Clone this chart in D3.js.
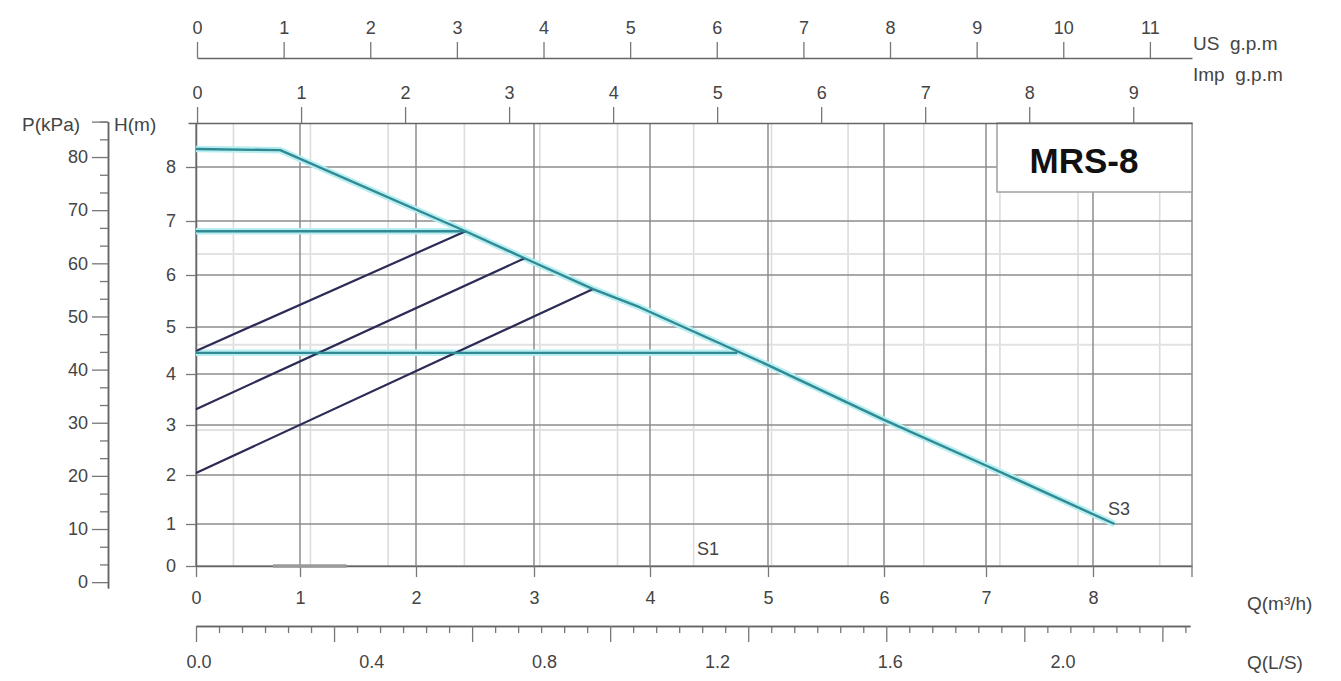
<!DOCTYPE html>
<html>
<head>
<meta charset="utf-8">
<script src="https://cdn.jsdelivr.net/npm/d3@7/dist/d3.min.js"></script>
<style>
body{margin:0;background:#fff;}
text{font-family:"Liberation Sans",Arial,sans-serif;fill:#444;}
</style>
</head>
<body>
<div id="viz"></div>
<script>
// axis ticks / labels
var qTicks = [0,1,2,3,4,5,6,7,8];
var hTicks = [0,1,2,3,4,5,6,7,8];
var pTicks = [0,10,20,30,40,50,60,70,80];
var usTicks = [0,1,2,3,4,5,6,7,8,9,10,11];
var impTicks = [0,1,2,3,4,5,6,7,8,9];
var lsLabels = [0.0,0.4,0.8,1.2,1.6,2.0];

// faint grid lines of the sheet
var qMinorGrid = [0.36,1.09,1.76,2.41,3.05,3.72,4.37,5.03,5.69,6.39,7.13,7.86,8.62];
var hMinorGrid = [6.39,4.62,2.9];

// curves (Q m3/h, H m)
var s3Curve = [[0,8.33],[0.81,8.31],[2.42,6.81],[2.92,6.31],[3.51,5.73],[3.91,5.38],[5.0,4.19],[6.0,3.10],[7.01,2.18],[8.20,1.0]];
var constHigh = [[0,6.81],[2.42,6.81]];
var constLow = [[0,4.45],[4.74,4.45]];
var propHigh = [[0,4.49],[2.42,6.81]];
var propMid = [[0,3.31],[2.92,6.31]];
var propLow = [[0,2.04],[3.51,5.73]];
var s1Line = [[0.74,0],[1.4,0]];

var width = 1341, height = 681;
var plotL = 196, plotR = 1192, plotT = 123, plotB = 566;

var svg = d3.select('#viz')
	.append('svg')
	.attr("width",width)
	.attr("height",height);

// the printed sheet has uneven spacing, so the scales are piecewise
var qScale = d3.scaleLinear()
	.domain([0,1,2,3,4,5,6,7,8,8.92])
	.range([196,300,416,534,650,768,884,986,1093,1192]);

var hScale = d3.scaleLinear()
	.domain([0,1,2,3,4,5,6,7,8,8.81])
	.range([566,524,475,425,374,327,275,221,167,123]);

var pScale = d3.scaleLinear()
	.domain([-1.1,86.67])
	.range([588,121.6]);

var usScale = d3.scaleLinear()
	.domain([0,11.486])
	.range([197,1192]);

var impScale = d3.scaleLinear()
	.domain([-0.087,9.565])
	.range([188,1192]);

var rulerScale = d3.scaleLinear()
	.domain([0,2.4])
	.range([196,1190]);

var lsLabelScale = d3.scaleLinear()
	.domain([0,2.0])
	.range([199,1063]);

// grid
var grid = svg.append("g");

grid.selectAll(".vminor")
	.data(qMinorGrid)
	.enter()
		.append("line")
		.attr("x1",function(d){return qScale(d)})
		.attr("x2",function(d){return qScale(d)})
		.attr("y1",plotT)
		.attr("y2",plotB)
		.attr("stroke","#dcdcdc")
		.attr("stroke-width",1.6);

grid.selectAll(".hminor")
	.data(hMinorGrid)
	.enter()
		.append("line")
		.attr("x1",plotL)
		.attr("x2",plotR)
		.attr("y1",function(d){return hScale(d)})
		.attr("y2",function(d){return hScale(d)})
		.attr("stroke","#e2e2e2")
		.attr("stroke-width",2);

grid.selectAll(".vmajor")
	.data(qTicks.concat([8.92]))
	.enter()
		.append("line")
		.attr("x1",function(d){return qScale(d)})
		.attr("x2",function(d){return qScale(d)})
		.attr("y1",plotT)
		.attr("y2",plotB)
		.attr("stroke","#8c8c8c")
		.attr("stroke-width",1.5);

grid.selectAll(".hmajor")
	.data(hTicks)
	.enter()
		.append("line")
		.attr("x1",plotL)
		.attr("x2",plotR)
		.attr("y1",function(d){return hScale(d)})
		.attr("y2",function(d){return hScale(d)})
		.attr("stroke","#8c8c8c")
		.attr("stroke-width",1.5);

// model box
svg.append("rect")
	.attr("x",997)
	.attr("y",plotT)
	.attr("width",plotR-997)
	.attr("height",69)
	.attr("fill","#fff")
	.attr("stroke","#a0a0a0")
	.attr("stroke-width",1.5);

svg.append("text")
	.attr("x",1084)
	.attr("y",173)
	.attr("text-anchor","middle")
	.attr("font-size",35)
	.attr("font-weight","bold")
	.style("fill","#111")
	.text("MRS-8");

// axes
function styleAxis(g){
	g.selectAll("path").attr("stroke","#666").attr("stroke-width",1.5);
	g.selectAll("line").attr("stroke","#777").attr("stroke-width",1.3);
	g.selectAll("text").attr("font-size",18).attr("font-family","Liberation Sans, Arial, sans-serif").attr("fill","#444");
}

svg.append("g")
	.attr("transform","translate(0,58)")
	.call(d3.axisTop(usScale).tickValues(usTicks).tickSize(16).tickSizeOuter(0).tickPadding(8))
	.call(styleAxis);

svg.append("g")
	.attr("transform","translate(0,"+plotT+")")
	.call(d3.axisTop(impScale).tickValues(impTicks).tickSize(16).tickSizeOuter(0).tickPadding(8))
	.call(styleAxis);

svg.append("g")
	.attr("transform","translate(0,"+plotB+")")
	.call(d3.axisBottom(qScale).tickValues(qTicks).tickSize(11).tickSizeOuter(0).tickPadding(14))
	.call(styleAxis);

svg.append("g")
	.attr("transform","translate("+plotL+",0)")
	.call(d3.axisLeft(hScale).tickValues(hTicks).tickSize(10).tickSizeOuter(0).tickPadding(10))
	.call(styleAxis);

// right border runs a bit below the plot like the others
svg.append("line")
	.attr("x1",plotR).attr("x2",plotR)
	.attr("y1",plotB).attr("y2",plotB+11)
	.attr("stroke","#777").attr("stroke-width",1.3);

// pressure ruler
var pMinor = d3.range(0,27).map(function(k){return k*10/3;}).filter(function(v,k){return k%3!=0;});
svg.append("g")
	.attr("transform","translate(108,0)")
	.call(d3.axisLeft(pScale).tickValues(pMinor).tickSize(8).tickSizeOuter(0).tickFormat(""))
	.call(styleAxis);
svg.append("g")
	.attr("transform","translate(108,0)")
	.call(d3.axisLeft(pScale).tickValues(pTicks.concat([86.67])).tickSize(16).tickSizeOuter(0).tickPadding(4)
		.tickFormat(function(d){return d>85 ? "" : d;}))
	.call(styleAxis);

// L/S ruler
var lsMinor = d3.range(0,44).map(function(k){return k/18;}).filter(function(v,k){return k%6!=0;});
svg.append("g")
	.attr("transform","translate(0,626)")
	.call(d3.axisBottom(rulerScale).tickValues(lsMinor).tickSize(7).tickSizeOuter(0).tickFormat(""))
	.call(styleAxis);
svg.append("g")
	.attr("transform","translate(0,626)")
	.call(d3.axisBottom(rulerScale).tickValues(d3.range(0,8).map(function(k){return k/3;})).tickSize(16).tickSizeOuter(0).tickFormat(""))
	.call(styleAxis);

svg.append("g")
	.selectAll("text")
	.data(lsLabels)
	.enter()
		.append("text")
		.attr("x",function(d){return lsLabelScale(d)})
		.attr("y",668)
		.attr("text-anchor","middle")
		.attr("font-size",18)
		.text(function(d){return d3.format(".1f")(d)});

// curves
var line = d3.line()
	.x(function(d){return qScale(d[0])})
	.y(function(d){return hScale(d[1])});

svg.append("path")
	.datum(s1Line)
	.attr("d",line)
	.attr("fill","none")
	.attr("stroke","#9a9a9a")
	.attr("stroke-width",3.5);

[constHigh,constLow,s3Curve].forEach(function(c){
	svg.append("path")
		.datum(c)
		.attr("d",line)
		.attr("fill","none")
		.attr("stroke","#b8eef1")
		.attr("stroke-width",6.5)
		.attr("stroke-linejoin","round");
});

[propHigh,propMid,propLow].forEach(function(c){
	svg.append("path")
		.datum(c)
		.attr("d",line)
		.attr("fill","none")
		.attr("stroke","#2c2b56")
		.attr("stroke-width",2.2);
});

[constHigh,constLow,s3Curve].forEach(function(c){
	svg.append("path")
		.datum(c)
		.attr("d",line)
		.attr("fill","none")
		.attr("stroke","#2f8a93")
		.attr("stroke-width",2.4)
		.attr("stroke-linejoin","round");
});

// labels
function label(x,y,t){
	return svg.append("text")
		.attr("x",x)
		.attr("y",y)
		.attr("font-size",19)
		.style("white-space","pre")
		.text(t);
}
label(22,131,"P(kPa)");
label(114,131,"H(m)");
label(1193,50,"US  g.p.m");
label(1193,81,"Imp  g.p.m");
label(1247,610,"Q(m³/h)");
label(1247,669,"Q(L/S)");
label(697,555,"S1").attr("font-size",18);
label(1108,515,"S3").attr("font-size",18);
</script>
</body>
</html>
